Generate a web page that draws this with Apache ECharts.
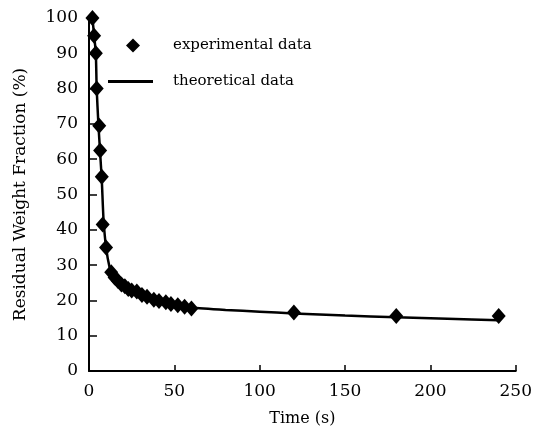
<!DOCTYPE html>
<html>
<head>
<meta charset="utf-8">
<script src="https://cdn.jsdelivr.net/npm/echarts@6/dist/echarts.min.js"></script>
<style>
  html, body { margin: 0; padding: 0; background: #fff; }
  #chart { width: 535px; height: 432px; }
</style>
</head>
<body>
<div id="chart"></div>
<script>
// experimental points (time s, residual %)
const expTime = [2, 3, 4, 4.5, 6, 6.5, 7.5, 8, 10, 13, 15, 17, 19, 21, 23, 25, 28, 31, 34, 38, 41, 45, 48, 52, 56, 60, 120, 180, 240];
const expValue = [100, 95, 90, 80, 69.5, 62.5, 55, 41.5, 35, 28, 26.5, 25.5, 24.5, 24, 23.2, 22.8, 22.5, 21.5, 21, 20.2, 19.8, 19.5, 19, 18.6, 18.2, 17.7, 16.6, 15.6, 15.6];

// theoretical curve
const theoTime = [2, 3, 4, 4.5, 5.5, 6.5, 7.5, 8.5, 10, 12, 14, 17, 20, 25, 30, 40, 50, 60, 80, 100, 120, 150, 180, 210, 240];
const theoValue = [100, 95, 90, 80, 70, 62, 54, 43, 35, 29.5, 27, 25.3, 24.2, 22.8, 21.7, 20, 18.9, 18, 17.3, 16.8, 16.3, 15.7, 15.2, 14.8, 14.4];

const xTicks = [0, 50, 100, 150, 200, 250];

const font = 'DejaVu Serif';
const myChart = echarts.init(document.getElementById('chart'));
const option = {
  animation: false,
  grid: { left: 89, right: 12, top: 18, bottom: 58 },
  legend: [
    {
      data: [{ name: 'experimental data', icon: 'diamond' }],
      left: 121, top: 33,
      itemWidth: 14, itemHeight: 14,
      textStyle: { fontFamily: font, fontSize: 15, color: '#000', padding: [0, 0, 0, 28] }
    },
    {
      data: [{ name: 'theoretical data', icon: 'rect' }],
      left: 103, top: 69,
      itemWidth: 45, itemHeight: 3,
      textStyle: { fontFamily: font, fontSize: 15, color: '#000', padding: [0, 0, 0, 15] }
    }
  ],
  xAxis: {
    type: 'value', min: 0, max: 250, interval: 50,
    name: 'Time (s)', nameLocation: 'middle', nameGap: 40,
    nameTextStyle: { fontFamily: font, fontSize: 16, color: '#000' },
    axisLine: { show: true, lineStyle: { color: '#000', width: 2 } },
    axisTick: { show: true, inside: true, length: 6, lineStyle: { color: '#000', width: 1.5 } },
    axisLabel: { fontFamily: font, fontSize: 17, color: '#000', margin: 12,
      formatter: v => xTicks.includes(v) ? String(v) : '' },
    splitLine: { show: false }
  },
  yAxis: {
    type: 'value', min: 0, max: 100, interval: 10,
    name: 'Residual Weight Fraction (%)', nameLocation: 'middle', nameGap: 60,
    nameTextStyle: { fontFamily: font, fontSize: 17, color: '#000' },
    axisLine: { show: true, lineStyle: { color: '#000', width: 2 } },
    axisTick: { show: true, inside: true, length: 8, lineStyle: { color: '#000', width: 1.5 } },
    axisLabel: { fontFamily: font, fontSize: 17, color: '#000', margin: 11 },
    splitLine: { show: false }
  },
  series: [
    {
      name: 'theoretical data',
      type: 'line',
      data: theoTime.map((t, i) => [t, theoValue[i]]),
      showSymbol: false,
      smooth: 0.2,
      lineStyle: { color: '#000', width: 2.5 },
      itemStyle: { color: '#000' },
      z: 2
    },
    {
      name: 'experimental data',
      type: 'scatter',
      data: expTime.map((t, i) => [t, expValue[i]]),
      symbol: 'diamond',
      symbolSize: [14, 16],
      itemStyle: { color: '#000', opacity: 1 },
      z: 3
    }
  ]
};
myChart.setOption(option);
</script>
</body>
</html>
